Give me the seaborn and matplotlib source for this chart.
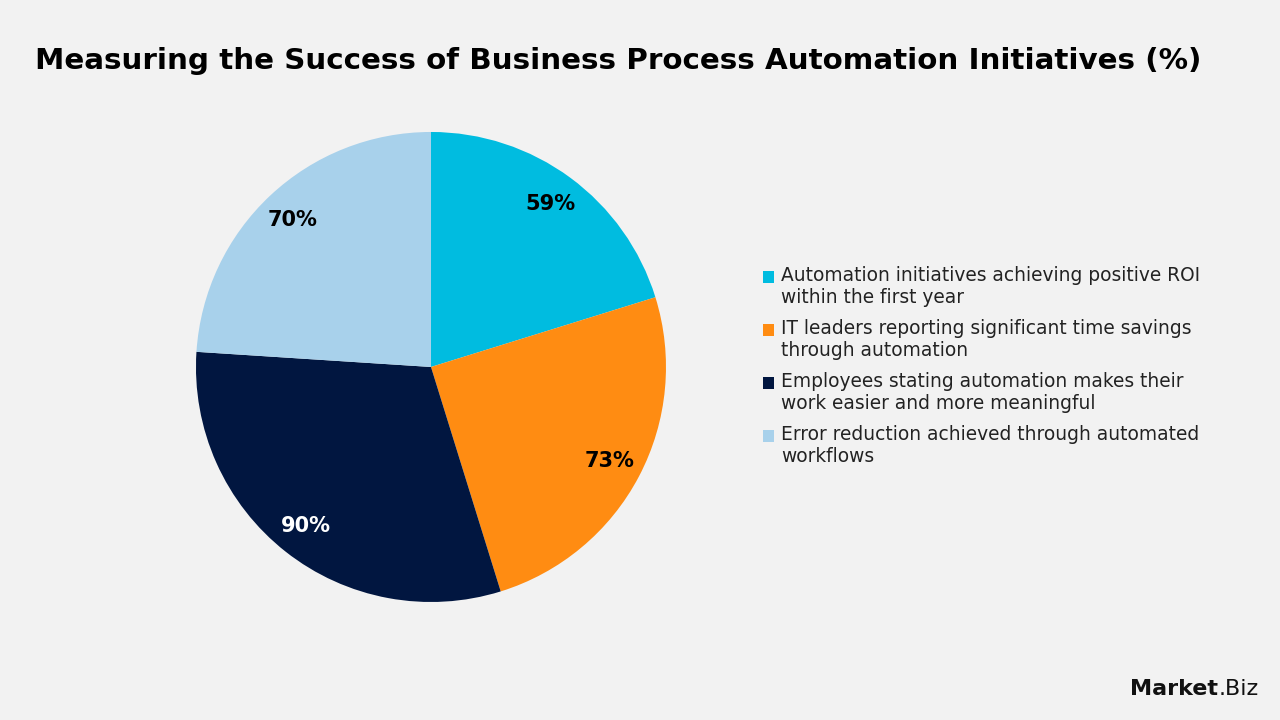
import matplotlib
matplotlib.use("Agg")
from matplotlib import pyplot as plt
from matplotlib.patches import Patch, Rectangle
from matplotlib.legend_handler import HandlerPatch
import seaborn as sns

# data
categories = [
    "Automation initiatives achieving positive ROI\nwithin the first year",
    "IT leaders reporting significant time savings\nthrough automation",
    "Employees stating automation makes their\nwork easier and more meaningful",
    "Error reduction achieved through automated\nworkflows",
]
values = [59, 73, 90, 70]
colors = ["#00BCE0", "#FF8C12", "#011640", "#A8D1EB"]
label_colors = ["black", "black", "white", "black"]

bg = "#F2F2F2"
sns.set_theme(style="white")
plt.rcParams["font.family"] = ["DejaVu Sans"]

fig = plt.figure(figsize=(12.8, 7.2), dpi=100, facecolor=bg)
ax = fig.add_axes([0.1531, 0.1639, 0.3672, 0.6528])
ax.set_facecolor(bg)

wedges, texts = ax.pie(
    values,
    colors=colors,
    startangle=90,
    counterclock=False,
    labels=[f"{v}%" for v in values],
    labeldistance=0.86,
    textprops=dict(fontsize=15, fontweight="bold"),
    wedgeprops=dict(linewidth=0),
)
for t, c in zip(texts, label_colors):
    t.set_color(c)
    t.set_ha("center")
    t.set_va("center")
ax.set_xlim(-1, 1)
ax.set_ylim(-1, 1)
ax.set_aspect("equal")
ax.axis("off")


# square marker aligned with the first line of a two-line label
def top_square(legend, orig_handle, xdescent, ydescent, width, height, fontsize):
    return Rectangle((-xdescent, -ydescent + 0.56 * fontsize), width, height)


handles = [Patch(facecolor=c, edgecolor="none") for c in colors]
leg = fig.legend(
    handles, categories,
    loc="upper left", bbox_to_anchor=(0.589, 0.643),
    frameon=False, fontsize=13.4, handlelength=0.6, handleheight=0.6,
    handletextpad=0.35, labelspacing=0.66, borderpad=0, labelcolor="#222222",
    handler_map={Patch: HandlerPatch(patch_func=top_square)},
)
for t in leg.get_texts():
    t.set_linespacing(1.18)

fig.text(0.027, 0.915, "Measuring the Success of Business Process Automation Initiatives (%)",
         fontsize=21.2, fontweight="bold", color="black", va="center", ha="left")

mk = fig.text(0.883, 0.035, "Market", fontsize=16, fontweight="bold", color="#111111",
              ha="left", va="baseline")
fig.canvas.draw()
bb = mk.get_window_extent().transformed(fig.transFigure.inverted())
fig.text(bb.x1, 0.035, ".Biz", fontsize=16, color="#111111", ha="left", va="baseline")

fig.savefig("out.png", dpi=100, facecolor=bg)
